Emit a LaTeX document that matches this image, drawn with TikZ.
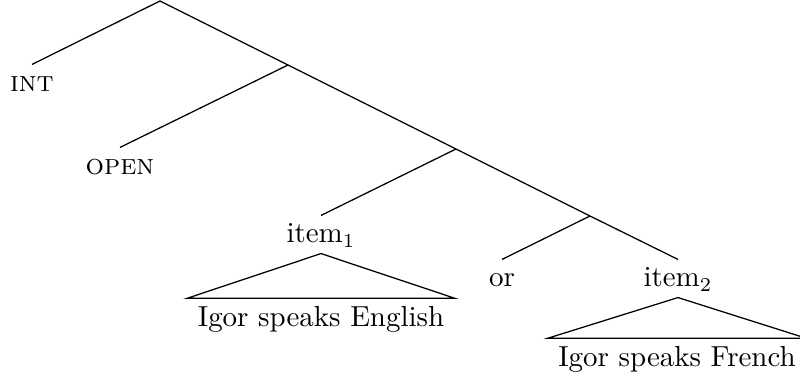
\documentclass[tikz,border=0pt]{standalone}
\begin{document}
\begin{tikzpicture}[x=0.0125cm,y=-0.0125cm,
  every node/.style={font=\fontsize{10.3pt}{12pt}\selectfont},
  leaf/.style={anchor=base,inner sep=0pt,text height=9.6pt,text depth=3.56pt},
  yield/.style={anchor=base,inner ysep=0pt,inner xsep=3.6pt,text height=10pt,text depth=0pt},
  edge/.style={draw,line width=0.45pt}]
\useasboundingbox (0,0) rectangle (800,381);
\coordinate (r) at (160,1);
\coordinate (n1) at (288,65);
\coordinate (n2) at (456,149);
\coordinate (n3) at (590,216);
\node[leaf] (int) at (32,92) {\textsc{int}};
\node[leaf] (open) at (120,175) {\textsc{open}};
\node[leaf] (item1) at (321,243) {item$_1$};
\node[leaf] (or) at (502,287) {or};
\node[leaf] (item2) at (678,287) {item$_2$};
\node[yield] (eng) at (321,327) {Igor speaks English};
\node[yield] (fr) at (677,367) {Igor speaks French};
\path[edge] (int.north) -- (r) -- (n1) -- (n2) -- (n3) -- (item2.north);
\path[edge] (n1) -- (open.north);
\path[edge] (n2) -- (item1.north);
\path[edge] (n3) -- (or.north);
\path[edge] (item1.south) -- (eng.north west) -- (eng.north east) -- cycle;
\path[edge] (item2.south) -- (fr.north west) -- (fr.north east) -- cycle;
\end{tikzpicture}
\end{document}
